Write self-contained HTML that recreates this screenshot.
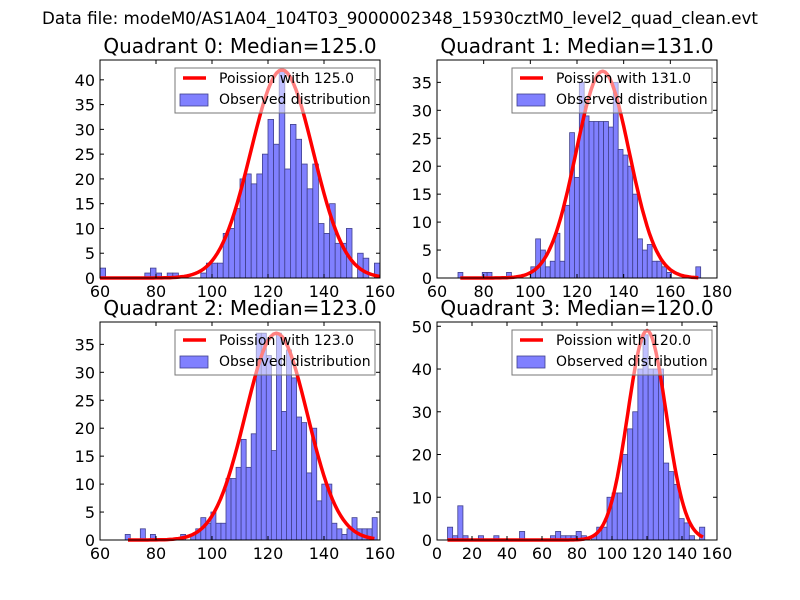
<!DOCTYPE html>
<html><head><meta charset="utf-8"><style>
body{margin:0;background:#fff}
svg{display:block;font-family:"DejaVu Sans","Liberation Sans",sans-serif}
</style></head><body>
<svg id="fig" width="800" height="600" viewBox="0 0 800 600" xmlns="http://www.w3.org/2000/svg">
<rect width="800" height="600" fill="#fff"/>
<text x="400" y="24" text-anchor="middle" font-size="16.7">Data file: modeM0/AS1A04_104T03_9000002348_15930cztM0_level2_quad_clean.evt</text>
</svg>
<script>
// Quadrant 0
const q0Counts=[2,0,0,0,0,0,0,0,1,2,1,0,1,1,0,0,0,0,1,3,3,3,9,10,14,20,21,19,21,25,32,27,42,22,31,28,23,18,23,11,9,15,7,7,10,0,5,4,0,3];
const q0Range=[60,160];
const q0Median=125.0;
const q0Peak=42;
// Quadrant 1
const q1Counts=[1,0,0,0,0,1,1,0,0,0,1,0,0,0,0,2,7,5,2,3,8,3,13,26,18,35,29,28,28,28,28,27,35,23,22,20,15,7,5,6,3,3,2,1,0,0,0,0,0,2];
const q1Range=[69,173];
const q1Median=131.0;
const q1Peak=37;
// Quadrant 2
const q2Counts=[1,0,0,2,0,1,0,0,0,0,0,1,0,1,2,4,3,5,3,3,11,11,13,18,13,19,37,37,33,16,37,23,34,29,22,21,12,20,7,10,10,3,2,1,2,4,2,2,2,4];
const q2Range=[69,159];
const q2Median=123.0;
const q2Peak=37;
// Quadrant 3
const q3Counts=[3,1,8,1,0,0,1,0,0,1,0,0,0,0,2,0,0,0,0,0,1,2,1,1,1,2,1,0,1,3,3,10,11,11,20,26,30,40,48,40,40,40,18,16,13,5,4,1,0,3];
const q3Range=[6,153];
const q3Median=120.0;
const q3Peak=49;
// axis ticks
const q0XTicks=[60,80,100,120,140,160];const q0YTicks=[0,5,10,15,20,25,30,35,40];
const q1XTicks=[60,80,100,120,140,160,180];const q1YTicks=[0,5,10,15,20,25,30,35];
const q2XTicks=[60,80,100,120,140,160];const q2YTicks=[0,5,10,15,20,25,30,35];
const q3XTicks=[0,20,40,60,80,100,120,140,160];const q3YTicks=[0,10,20,30,40,50];

const NS="http://www.w3.org/2000/svg";
const svg=document.getElementById('fig');
function mk(tag,attrs,parent){const e=document.createElementNS(NS,tag);for(const k in attrs)e.setAttribute(k,attrs[k]);(parent||svg).appendChild(e);return e;}

function panel(idx,box,xDom,yMax,counts,range,median,peak,xTicks,yTicks,curveRange){
  const [L,T,R,B]=box;
  const g=mk('g',{});
  
  
  const sx=v=>L+(v-xDom[0])/(xDom[1]-xDom[0])*(R-L);
  const sy=v=>B-v/yMax*(B-T);
  const t=mk('text',{x:(L+R)/2,y:T-7,'text-anchor':'middle','font-size':20},g);
  t.textContent='Quadrant '+idx+': Median='+median.toFixed(1);
  
  
  const w=(range[1]-range[0])/counts.length;
  counts.forEach((c,i)=>{
    if(c<=0)return;
    const x0=sx(range[0]+i*w),x1=sx(range[0]+(i+1)*w);
    const r=mk('rect',{x:x0,y:sy(c),width:x1-x0,height:B-sy(c),fill:'#8080ff',stroke:'#40408c','stroke-width':0.8},g);
    
    
  });
  const sd=Math.sqrt(median);
  let pts=[];
  for(let x=curveRange[0];x<=curveRange[1];x+=1){
    const y=peak*Math.exp(-0.5*Math.pow((x-median)/sd,2));
    pts.push(sx(x).toFixed(1)+','+sy(y).toFixed(1));
  }
  const pl=mk('polyline',{points:pts.join(' '),fill:'none',stroke:'#ff0000','stroke-width':3.5,'stroke-linejoin':'round'},g);
  
  
  mk('rect',{x:L,y:T,width:R-L,height:B-T,fill:'none',stroke:'#000','stroke-width':1},g);
  xTicks.forEach(v=>{
    const x=sx(v);
    mk('line',{x1:x,y1:B,x2:x,y2:B-4,stroke:'#000'},g);
    mk('line',{x1:x,y1:T,x2:x,y2:T+4,stroke:'#000'},g);
    const tl=mk('text',{x:x,y:B+19,'text-anchor':'middle','font-size':16},g);
    tl.textContent=v;
    
    
  });
  yTicks.forEach(v=>{
    const y=sy(v);
    mk('line',{x1:L,y1:y,x2:L+4,y2:y,stroke:'#000'},g);
    mk('line',{x1:R,y1:y,x2:R-4,y2:y,stroke:'#000'},g);
    const tl=mk('text',{x:L-5,y:y+6,'text-anchor':'end','font-size':16},g);
    tl.textContent=v;
    
    
  });
  const lg=mk('g',{},g);
  
  
  const lx=R-205,ly=T+8;
  mk('rect',{x:lx,y:ly,width:200,height:45,fill:'rgba(255,255,255,0.5)',stroke:'#777','stroke-width':1},lg);
  mk('line',{x1:lx+8,y1:ly+10,x2:lx+31,y2:ly+10,stroke:'#ff0000','stroke-width':3.5},lg);
  const t1=mk('text',{x:lx+44,y:ly+15,'font-size':14},lg);t1.textContent='Poission with '+median.toFixed(1);
  
  
  mk('rect',{x:lx+5,y:ly+26,width:28,height:12,fill:'#8080ff',stroke:'#40408c','stroke-width':0.8},lg);
  const t2=mk('text',{x:lx+44,y:ly+36,'font-size':14},lg);t2.textContent='Observed distribution';
  
  
}
panel(0,[100,60,380,278],[60,160],44,q0Counts,q0Range,q0Median,q0Peak,q0XTicks,q0YTicks,[60,160]);
panel(1,[437,60,717,278],[60,180],39,q1Counts,q1Range,q1Median,q1Peak,q1XTicks,q1YTicks,[70,172]);
panel(2,[100,322,380,540],[60,160],39,q2Counts,q2Range,q2Median,q2Peak,q2XTicks,q2YTicks,[70,158]);
panel(3,[437,322,717,540],[0,160],51,q3Counts,q3Range,q3Median,q3Peak,q3XTicks,q3YTicks,[6,152]);
</script>
</body></html>
